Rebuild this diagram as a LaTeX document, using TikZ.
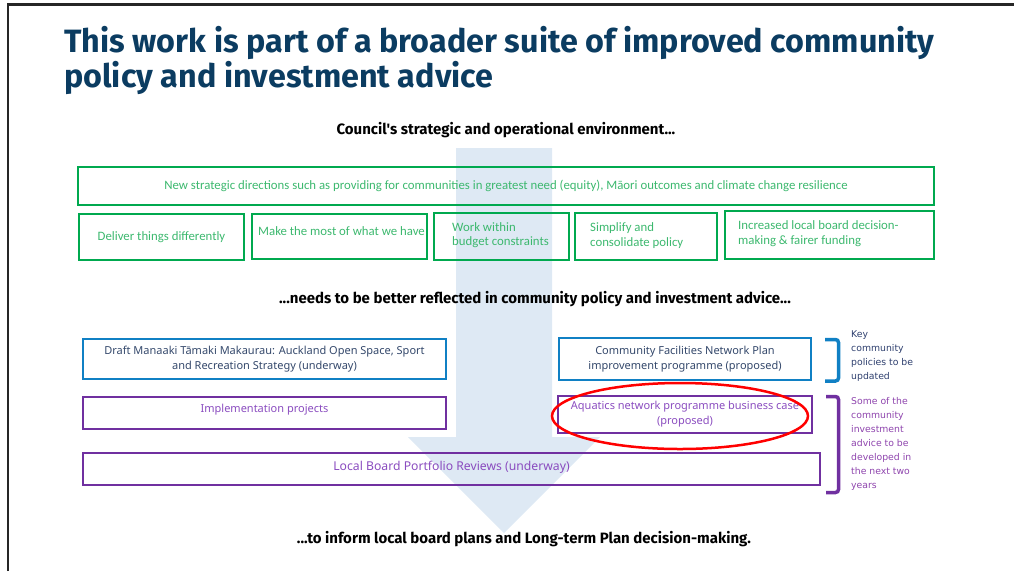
\documentclass[tikz,border=0pt]{standalone}
\usepackage{fontspec}
\setmainfont{Carlito}
\newfontfamily\titlefont{Fira Sans}
\newfontfamily\headfont{Fira Sans}
\newfontfamily\plexfont{Noto Sans}
\newfontfamily\handfont{DejaVu Sans}
\definecolor{titleblue}{HTML}{0B3C61}
\definecolor{boxgreen}{HTML}{00A94F}
\definecolor{textgreen}{HTML}{3CB86E}
\definecolor{boxblue}{HTML}{1080C4}
\definecolor{textblue}{HTML}{34486B}
\definecolor{boxpurple}{HTML}{7030A0}
\definecolor{textpurple}{HTML}{8A4CBF}
\definecolor{arrowblue}{HTML}{DEE9F4}
\definecolor{handblue}{HTML}{2E3F6E}
\definecolor{handpurple}{HTML}{8E44AD}
\tikzset{
  gbox/.style={draw=boxgreen, line width=2pt, inner sep=0pt, text=textgreen, font=\fontsize{12.8}{14.5}\selectfont},
  bbox/.style={draw=boxblue, line width=2pt, inner sep=0pt, text=textblue, font=\plexfont\fontsize{11}{15}\selectfont},
  pbox/.style={draw=boxpurple, line width=2pt, inner sep=0pt, text=textpurple, font=\plexfont\fontsize{11}{15}\selectfont},
  ptext/.style={text=textpurple, font=\plexfont\fontsize{11}{15}\selectfont, inner sep=0pt},
  gtext/.style={text=textgreen, font=\fontsize{12.8}{14.5}\selectfont, align=left, inner sep=0pt},
  heading/.style={font=\headfont\bfseries\fontsize{15}{18}\selectfont, inner sep=0pt, anchor=base},
  titletext/.style={font=\titlefont\bfseries\fontsize{32.3}{35}\selectfont, text=titleblue, inner sep=0pt, anchor=base west},
  hand/.style={font=\handfont\fontsize{9.3}{14}\selectfont, align=left, inner sep=0pt, anchor=north west},
  bracket/.style={line width=3.5pt, rounded corners=3pt},
}
\begin{document}
\begin{tikzpicture}[x=1pt, y=-1pt]
\useasboundingbox (0,0) rectangle (1014,571);
% frame
\draw[line width=2.5pt, black!85] (8,571) -- (8,4.5) -- (1014,4.5);
% big arrow
\fill[arrowblue] (456,148) -- (552,148) -- (552,437) -- (600,437) -- (504,533) -- (408,437) -- (456,437) -- cycle;
% title
\node[titletext] (title1) at (64,52) {This work is part of a broader suite of improved community};
\node[titletext] (title2) at (64,87) {policy and investment advice};
% headings
\node[heading] (h1) at (506,134) {Council's strategic and operational environment...};
\node[heading] (h2) at (535,303) {...needs to be better reflected in community policy and investment advice...};
\node[heading] (h3) at (524,543) {...to inform local board plans and Long-term Plan decision-making.};
% green boxes
\node[gbox, minimum width=856pt, minimum height=38pt] (big) at (506,186) {New strategic directions such as providing for communities in greatest need (equity), Māori outcomes and climate change resilience};
\node[gbox, minimum width=165pt, minimum height=46pt] (g1) at (161.5,237) {Deliver things differently};
\node[gbox, minimum width=175pt, minimum height=45pt] (g2) at (339.5,236.5) {};
\node[gtext, anchor=west] (g2t) at (258,231) {Make the most of what we have};
\node[gbox, minimum width=135pt, minimum height=47pt] (g3) at (501.5,236.5) {};
\node[gtext, anchor=west] (g3t) at (452,235) {Work within\\budget constraints};
\node[gbox, minimum width=142pt, minimum height=47pt] (g4) at (646,236.5) {};
\node[gtext, anchor=west] (g4t) at (590,235.5) {Simplify and\\consolidate policy};
\node[gbox, minimum width=209pt, minimum height=48pt] (g5) at (829.5,235) {};
\node[gtext, anchor=west] (g5t) at (738,233.5) {Increased local board decision-\\making \& fairer funding};
% policy boxes
\node[bbox, minimum width=363pt, minimum height=40pt, align=center] (draft) at (264.5,359) {Draft Manaaki Tāmaki Makaurau: Auckland Open Space, Sport\\and Recreation Strategy (underway)};
\node[bbox, minimum width=252pt, minimum height=42pt, align=center] (cfnp) at (685,359) {Community Facilities Network Plan\\improvement programme (proposed)};
\node[pbox, minimum width=363pt, minimum height=32pt] (impl) at (264.5,413) {};
\node[ptext] (implt) at (264.5,410) {Implementation projects};
\node[pbox, minimum width=254pt, minimum height=37pt, align=center] (aqua) at (685,414.5) {Aquatics network programme business case\\(proposed)};
\node[pbox, minimum width=737pt, minimum height=32pt] (lbpr) at (451.5,469) {};
\node[ptext, font=\plexfont\fontsize{12.2}{15}\selectfont] (lbprt) at (451.5,467) {Local Board Portfolio Reviews (underway)};
% red ellipse
\draw[red, line width=2.5pt] (680,416) ellipse [x radius=128pt, y radius=33pt];
% brackets
\draw[bracket, boxblue] (825,339.5) -- (838.5,339.5) -- (838.5,381) -- (825,381);
\draw[bracket, boxpurple] (826,396.5) -- (838.5,396.5) -- (838.5,492.5) -- (826,492.5);
% hand notes
\node[hand, text=handblue] (note1) at (851,331) {Key\\community\\policies to be\\updated};
\node[hand, text=handpurple] (note2) at (851,397) {Some of the\\community\\investment\\advice to be\\developed in\\the next two\\years};
\end{tikzpicture}
\end{document}
